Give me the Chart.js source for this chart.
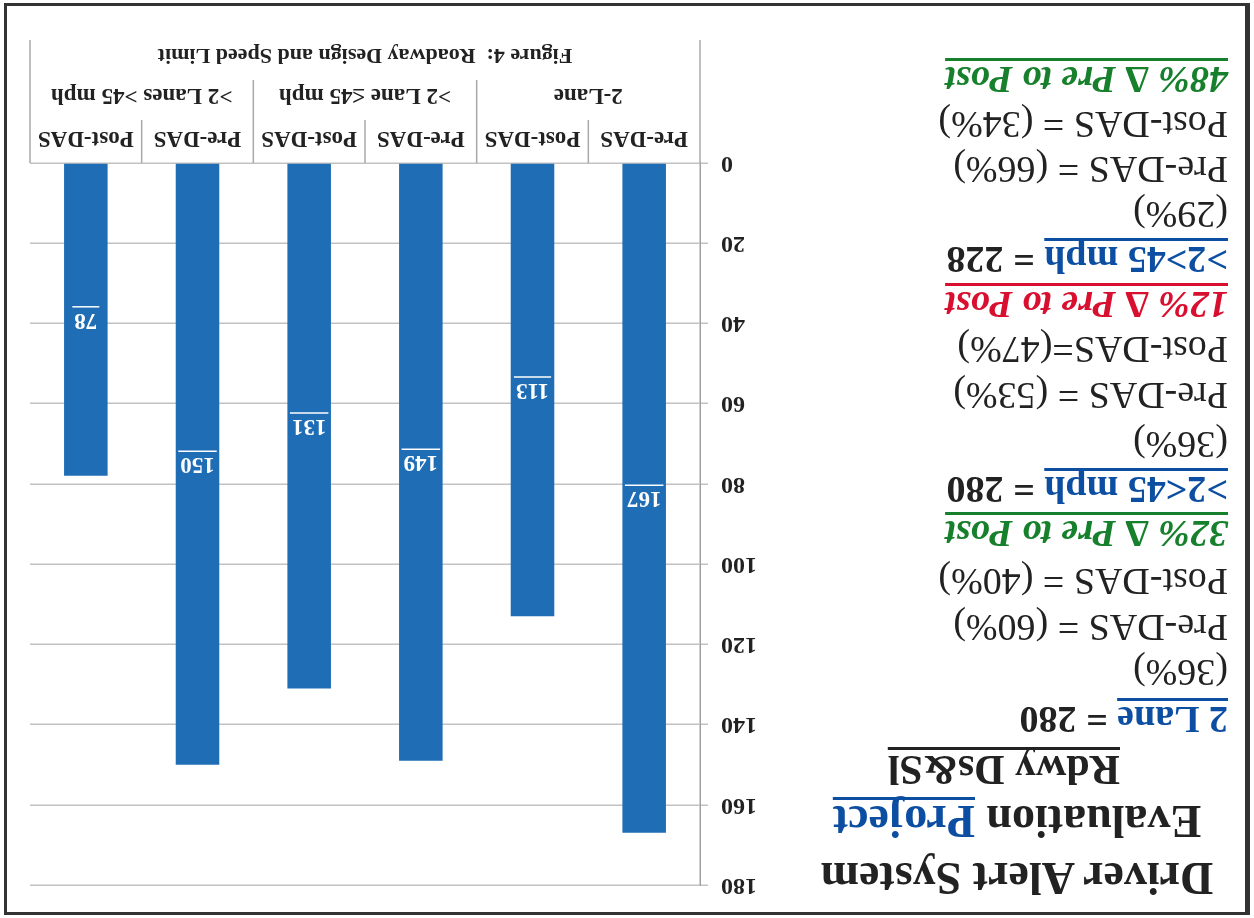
<!DOCTYPE html>
<html>
<head>
<meta charset="utf-8">
<script src="https://cdn.jsdelivr.net/npm/chart.js@4.4.0/dist/chart.umd.min.js"></script>
<style>
html, body { margin: 0; padding: 0; background: #fff; overflow: hidden; }
#page { position: relative; width: 1254px; height: 918px; transform: rotate(180deg);
        font-family: 'Liberation Serif', 'DejaVu Serif', serif; color: #222; background: #fff; }
#frame { position: absolute; left: 4px; top: 3px; width: 1238px; height: 906px;
         border: 3px solid #333; border-left-width: 5px; }
.t { position: absolute; left: 26px; white-space: nowrap; height: 46px; line-height: 46px; font-size: 38px; }
.c { left: 0; width: 474px; text-align: center; }
.b { font-weight: bold; }
.u { text-decoration: underline; text-decoration-thickness: 3px; text-underline-offset: 6px;
     text-decoration-skip-ink: none; }
.blue { color: #0c4ea2; }
.green { color: #17802c; font-weight: bold; font-style: italic; font-size: 38px; }
.red { color: #d90f2f; font-weight: bold; font-style: italic; font-size: 38px; }
#chartBox { position: absolute; left: 440px; top: 0; width: 814px; height: 918px; }
</style>
</head>
<body>
<div id="page">
  <div id="frame"></div>

  <div class="t c b" style="top:15px;font-size:46px;height:50px;line-height:50px">Driver Alert System</div>
  <div class="t c b" style="top:72px;font-size:46px;height:50px;line-height:50px">Evaluation <span class="blue u">Project</span></div>
  <div class="t b u" style="left:134px;top:125px;font-size:42px">Rdwy Ds&amp;Sl</div>

  <div class="t b" style="top:175px"><span class="blue u">2 Lane</span> = 280</div>
  <div class="t" style="top:222px">(36%)</div>
  <div class="t" style="top:267px">Pre-DAS = (60%)</div>
  <div class="t" style="top:313px">Post-DAS = (40%)</div>
  <div class="t green u" style="top:361px">32% &#8710; Pre to Post</div>

  <div class="t b" style="top:405px"><span class="blue u">&gt;2&lt;45 mph</span> = 280</div>
  <div class="t" style="top:450px">(36%)</div>
  <div class="t" style="top:499px">Pre-DAS = (53%)</div>
  <div class="t" style="top:545px">Post-DAS=(47%)</div>
  <div class="t red u" style="top:590px">12% &#8710; Pre to Post</div>

  <div class="t b" style="top:635px"><span class="blue u">&gt;2&gt;45 mph</span> = 228</div>
  <div class="t" style="top:680px">(29%)</div>
  <div class="t" style="top:725px">Pre-DAS = (66%)</div>
  <div class="t" style="top:770px">Post-DAS = (34%)</div>
  <div class="t green u" style="top:815px">48% &#8710; Pre to Post</div>

  <div id="chartBox"><canvas id="crashChart" width="814" height="918"></canvas></div>
</div>

<script>
var categories = ['Pre-DAS', 'Post-DAS', 'Pre-DAS', 'Post-DAS', 'Pre-DAS', 'Post-DAS'];
var groups = ['2-Lane', '>2 Lane \u226445 mph', '>2 Lanes >45 mph'];
var crashes = [167, 113, 149, 131, 150, 78];
var yMin = 0;
var yMax = 180;
var yStep = 20;
var figureTitle = 'Figure 4:  Roadway Design and Speed Limit';

var serif = '"Liberation Serif", "DejaVu Serif", serif';

// value labels in the middle of each bar, underlined
var barLabels = {
    id: 'barLabels',
    afterDatasetsDraw: function(chart) {
        var ctx = chart.ctx;
        var meta = chart.getDatasetMeta(0);
        ctx.save();
        ctx.font = 'bold 23px ' + serif;
        ctx.fillStyle = '#ffffff';
        ctx.strokeStyle = '#ffffff';
        ctx.lineWidth = 1.5;
        ctx.textAlign = 'center';
        ctx.textBaseline = 'middle';
        meta.data.forEach(function(bar, i) {
            var y = (bar.y + bar.base) / 2;
            var txt = String(crashes[i]);
            ctx.fillText(txt, bar.x, y);
            var w = ctx.measureText(txt).width;
            ctx.beginPath();
            ctx.moveTo(bar.x - w / 2 - 2, y + 13);
            ctx.lineTo(bar.x + w / 2 + 2, y + 13);
            ctx.stroke();
        });
        ctx.restore();
    }
};

// the two-level category table and figure title under the plot
var categoryTable = {
    id: 'categoryTable',
    afterDraw: function(chart) {
        var ctx = chart.ctx;
        var xs = chart.scales.x;
        var y0 = chart.chartArea.bottom;
        var n = categories.length;
        var w = (xs.right - xs.left) / n;
        ctx.save();
        ctx.strokeStyle = '#a8a8a8';
        ctx.lineWidth = 1.5;
        for (var i = 0; i <= n; i++) {
            var x = xs.left + i * w;
            var h = (i === 0 || i === n) ? 123 : (i % 2 === 0 ? 83 : 43);
            ctx.beginPath();
            ctx.moveTo(x, y0);
            ctx.lineTo(x, y0 + h);
            ctx.stroke();
        }
        ctx.fillStyle = '#222';
        ctx.textAlign = 'center';
        ctx.textBaseline = 'middle';
        ctx.font = 'bold 23px ' + serif;
        categories.forEach(function(c, i) {
            ctx.fillText(c, xs.getPixelForValue(i), y0 + 25);
        });
        groups.forEach(function(g, j) {
            ctx.fillText(g, xs.left + (2 * j + 1) * w, y0 + 68);
        });
        ctx.font = 'bold 22px ' + serif;
        ctx.fillText(figureTitle, (xs.left + xs.right) / 2, y0 + 108);
        ctx.restore();
    }
};

document.addEventListener('DOMContentLoaded', function() {
    var ctxCrash = document.getElementById('crashChart').getContext('2d');
    var crashChart = new Chart(ctxCrash, {
        type: 'bar',
        data: {
            labels: categories,
            datasets: [{
                data: crashes,
                backgroundColor: '#1f6db5',
                borderWidth: 0,
                barPercentage: 0.39,
                categoryPercentage: 1
            }]
        },
        options: {
            responsive: false,
            animation: false,
            devicePixelRatio: 1,
            layout: {
                padding: { left: 0, right: 30, top: 33, bottom: 0 }
            },
            scales: {
                x: {
                    ticks: { display: false },
                    grid: { display: false },
                    border: { display: false },
                    afterFit: function(s) { s.height = 163; }
                },
                y: {
                    min: yMin,
                    max: yMax,
                    ticks: {
                        stepSize: yStep,
                        padding: 13,
                        color: '#222',
                        font: { family: serif, size: 24, weight: 'bold' }
                    },
                    grid: { color: '#c2c2c2', lineWidth: 1.5, tickLength: 8 },
                    border: { color: '#a0a0a0', width: 1.5 },
                    afterFit: function(s) { s.width = 114; }
                }
            },
            plugins: {
                legend: { display: false },
                tooltip: { enabled: false }
            }
        },
        plugins: [barLabels, categoryTable]
    });
});
</script>
</body>
</html>
